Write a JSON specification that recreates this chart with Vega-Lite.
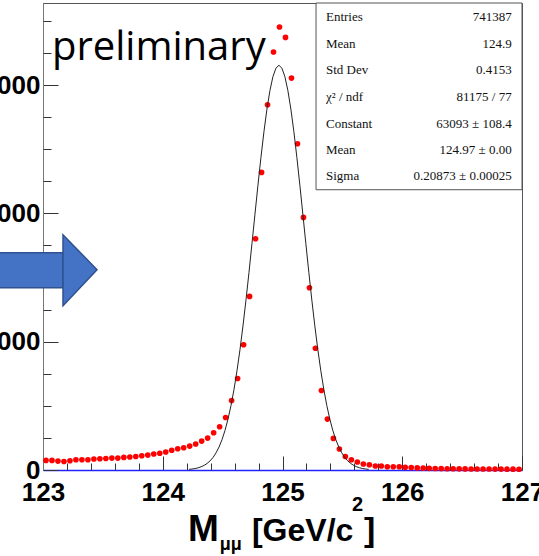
{
  "$schema": "https://vega.github.io/schema/vega-lite/v6.json",
  "width": 479,
  "height": 467,
  "autosize": {"type": "none"},
  "padding": {"left": 43, "top": 3, "right": 17, "bottom": 86},
  "background": "white",
  "config": {"view": {"stroke": "#555555", "strokeWidth": 1}},
  "datasets": {
    "hist": [
      {"m":123.025,"n":1490},{"m":123.075,"n":1490},{"m":123.125,"n":1395},{"m":123.175,"n":1330},{"m":123.225,"n":1440},
      {"m":123.275,"n":1600},{"m":123.325,"n":1600},{"m":123.375,"n":1600},{"m":123.425,"n":1710},{"m":123.475,"n":1750},
      {"m":123.525,"n":1800},{"m":123.575,"n":1860},{"m":123.625,"n":1860},{"m":123.675,"n":1960},{"m":123.725,"n":2020},
      {"m":123.775,"n":2110},{"m":123.825,"n":2220},{"m":123.875,"n":2330},{"m":123.925,"n":2490},{"m":123.975,"n":2610},
      {"m":124.025,"n":2800},{"m":124.075,"n":3080},{"m":124.125,"n":3310},{"m":124.175,"n":3470},{"m":124.225,"n":3730},
      {"m":124.275,"n":4050},{"m":124.325,"n":4510},{"m":124.375,"n":4980},{"m":124.425,"n":5810},{"m":124.475,"n":6740},
      {"m":124.525,"n":8190},{"m":124.575,"n":10840},{"m":124.625,"n":14270},{"m":124.675,"n":19530},{"m":124.725,"n":27060},
      {"m":124.775,"n":36050},{"m":124.825,"n":46390},{"m":124.875,"n":56940},{"m":124.925,"n":65160},{"m":124.975,"n":69060},
      {"m":125.025,"n":67430},{"m":125.075,"n":61100},{"m":125.125,"n":50860},{"m":125.175,"n":39370},{"m":125.225,"n":28410},
      {"m":125.275,"n":18980},{"m":125.325,"n":12400},{"m":125.375,"n":7940},{"m":125.425,"n":4920},{"m":125.475,"n":3270},
      {"m":125.525,"n":2110},{"m":125.575,"n":1600},{"m":125.625,"n":1240},{"m":125.675,"n":930},{"m":125.725,"n":820},
      {"m":125.775,"n":620},{"m":125.825,"n":620},{"m":125.875,"n":510},{"m":125.925,"n":510},{"m":125.975,"n":500},
      {"m":126.025,"n":430},{"m":126.075,"n":380},{"m":126.125,"n":330},{"m":126.175,"n":290},{"m":126.225,"n":260},
      {"m":126.275,"n":240},{"m":126.325,"n":220},{"m":126.375,"n":200},{"m":126.425,"n":190},{"m":126.475,"n":180},
      {"m":126.525,"n":170},{"m":126.575,"n":160},{"m":126.625,"n":160},{"m":126.675,"n":150},{"m":126.725,"n":150},
      {"m":126.775,"n":140},{"m":126.825,"n":140},{"m":126.875,"n":130},{"m":126.925,"n":130},{"m":126.975,"n":120}
    ],
    "fit": [
      {"m":124.22,"g":99},{"m":124.245,"g":151},{"m":124.27,"g":228},{"m":124.295,"g":338},{"m":124.32,"g":495},
      {"m":124.345,"g":713},{"m":124.37,"g":1013},{"m":124.395,"g":1420},{"m":124.42,"g":1960},{"m":124.445,"g":2668},
      {"m":124.47,"g":3581},{"m":124.495,"g":4737},{"m":124.52,"g":6177},{"m":124.545,"g":7939},{"m":124.57,"g":10058},
      {"m":124.595,"g":12562},{"m":124.62,"g":15468},{"m":124.645,"g":18773},{"m":124.67,"g":22460},{"m":124.695,"g":26488},
      {"m":124.72,"g":30795},{"m":124.745,"g":35292},{"m":124.77,"g":39869},{"m":124.795,"g":44397},{"m":124.82,"g":48735},
      {"m":124.845,"g":52736},{"m":124.87,"g":56252},{"m":124.895,"g":59149},{"m":124.92,"g":61309},{"m":124.945,"g":62642},
      {"m":124.97,"g":63093},
      {"m":124.995,"g":62642},{"m":125.02,"g":61309},{"m":125.045,"g":59149},{"m":125.07,"g":56252},{"m":125.095,"g":52736},
      {"m":125.12,"g":48735},{"m":125.145,"g":44397},{"m":125.17,"g":39869},{"m":125.195,"g":35292},{"m":125.22,"g":30795},
      {"m":125.245,"g":26488},{"m":125.27,"g":22460},{"m":125.295,"g":18773},{"m":125.32,"g":15468},{"m":125.345,"g":12562},
      {"m":125.37,"g":10058},{"m":125.395,"g":7939},{"m":125.42,"g":6177},{"m":125.445,"g":4737},{"m":125.47,"g":3581},
      {"m":125.495,"g":2668},{"m":125.52,"g":1960},{"m":125.545,"g":1420},{"m":125.57,"g":1013},{"m":125.595,"g":713},
      {"m":125.62,"g":495},{"m":125.645,"g":338},{"m":125.67,"g":228},{"m":125.695,"g":151},{"m":125.72,"g":99}
    ],
    "stats": [
      {"k":"Entries","v":"741387","y":70615},
      {"k":"Mean","v":"124.9","y":66452},
      {"k":"Std Dev","v":"0.4153","y":62290},
      {"k":"χ² / ndf","v":"81175 / 77","y":58143},
      {"k":"Constant","v":"63093  ± 108.4","y":53980},
      {"k":"Mean ","v":"124.97  ± 0.00","y":49818},
      {"k":"Sigma","v":"0.20873  ± 0.00025","y":45764}
    ],
    "box": [{"x1":125.28,"x2":127,"y1":43691,"y2":72800}],
    "arrowbody": [{"x1":122.6,"x2":123.167,"lo":28413,"hi":33869}],
    "arrowhead": [
      {"x":123.167,"lo":25607,"hi":36675},
      {"x":123.451,"lo":31219,"hi":31219}
    ],
    "label": [{"x":123.075,"y":63991,"t":"preliminary"}],
    "xtitle": [
      {"x":124.211,"y":-11030,"t":"M","s":37},
      {"x":124.475,"y":-12500,"t":"μμ","s":18},
      {"x":124.745,"y":-11030,"t":"[GeV/c","s":32},
      {"x":125.58,"y":-6400,"t":"2","s":20},
      {"x":125.68,"y":-11030,"t":"]","s":34}
    ]
  },
  "resolve": {"axis": {"x": "independent", "y": "independent"}},
  "layer": [
    {
      "data": {"name": "hist"},
      "mark": {"type": "point", "filled": true, "shape": "circle", "size": 32, "color": "#ff0000", "opacity": 1},
      "encoding": {
        "x": {"field": "m", "type": "quantitative",
          "scale": {"domain": [123, 127], "nice": false, "zero": false},
          "axis": {"orient": "bottom", "values": [123, 124, 125, 126, 127], "title": null, "grid": false,
            "tickSize": -14, "tickColor": "#333333", "tickWidth": 1,
            "domainColor": "#2222ff", "domainWidth": 1.3,
            "labelFont": "Liberation Sans", "labelFontWeight": "bold", "labelFontSize": 26,
            "labelColor": "#000000", "labelBaseline": "alphabetic", "labelPadding": 44,
            "labelFlush": false, "labelOverlap": false, "labelBound": false, "format": "d"}},
        "y": {"field": "n", "type": "quantitative",
          "scale": {"domain": [0, 72800], "nice": false, "zero": true},
          "axis": {"orient": "left", "values": [0, 20000, 40000, 60000], "title": null, "grid": false,
            "tickSize": -15, "tickColor": "#333333", "tickWidth": 1,
            "domainColor": "#777777", "domainWidth": 1,
            "labelFont": "Liberation Sans", "labelFontWeight": "bold", "labelFontSize": 26,
            "labelColor": "#000000", "labelBaseline": "middle", "labelAlign": "right", "labelPadding": 18,
            "labelFlush": false, "labelOverlap": false, "labelBound": false, "format": "d"}}
      }
    },
    {
      "data": {"name": "fit"},
      "mark": {"type": "line", "color": "#222222", "strokeWidth": 1},
      "encoding": {
        "x": {"field": "m", "type": "quantitative",
          "axis": {"orient": "bottom", "values": [123.2,123.4,123.6,123.8,124.2,124.4,124.6,124.8,125.2,125.4,125.6,125.8,126.2,126.4,126.6,126.8],
            "title": null, "grid": false, "labels": false, "domain": false,
            "tickSize": -7, "tickColor": "#333333", "tickWidth": 1}},
        "y": {"field": "g", "type": "quantitative",
          "axis": {"orient": "left", "values": [5000,10000,15000,25000,30000,35000,45000,50000,55000,65000,70000],
            "title": null, "grid": false, "labels": false, "domain": false,
            "tickSize": -8, "tickColor": "#333333", "tickWidth": 1}}
      }
    },
    {
      "data": {"name": "box"},
      "mark": {"type": "rect", "fill": "white", "stroke": "#555555", "strokeWidth": 1},
      "encoding": {
        "x": {"field": "x1", "type": "quantitative", "axis": null},
        "x2": {"field": "x2"},
        "y": {"field": "y1", "type": "quantitative", "axis": null},
        "y2": {"field": "y2"}
      }
    },
    {
      "data": {"name": "stats"},
      "mark": {"type": "text", "align": "left", "baseline": "middle", "font": "Liberation Serif", "fontSize": 13, "color": "#111111"},
      "encoding": {
        "x": {"datum": 125.363, "type": "quantitative", "axis": null},
        "y": {"field": "y", "type": "quantitative", "axis": null},
        "text": {"field": "k"}
      }
    },
    {
      "data": {"name": "stats"},
      "mark": {"type": "text", "align": "right", "baseline": "middle", "font": "Liberation Serif", "fontSize": 13, "color": "#111111"},
      "encoding": {
        "x": {"datum": 126.914, "type": "quantitative", "axis": null},
        "y": {"field": "y", "type": "quantitative", "axis": null},
        "text": {"field": "v"}
      }
    },
    {
      "data": {"name": "label"},
      "mark": {"type": "text", "align": "left", "baseline": "alphabetic", "font": "Open Sans", "fontSize": 40, "color": "#000000"},
      "encoding": {
        "x": {"field": "x", "type": "quantitative", "axis": null},
        "y": {"field": "y", "type": "quantitative", "axis": null},
        "text": {"field": "t"}
      }
    },
    {
      "data": {"name": "xtitle"},
      "mark": {"type": "text", "align": "left", "baseline": "alphabetic", "font": "Liberation Sans", "fontWeight": "bold", "color": "#000000", "clip": false},
      "encoding": {
        "x": {"field": "x", "type": "quantitative", "axis": null},
        "y": {"field": "y", "type": "quantitative", "axis": null},
        "text": {"field": "t"},
        "size": {"field": "s", "type": "quantitative", "scale": null, "legend": null}
      }
    },
    {
      "data": {"name": "arrowbody"},
      "mark": {"type": "rect", "fill": "#4472C4", "stroke": "#2F528F", "strokeWidth": 1.5, "clip": false},
      "encoding": {
        "x": {"field": "x1", "type": "quantitative", "axis": null},
        "x2": {"field": "x2"},
        "y": {"field": "lo", "type": "quantitative", "axis": null},
        "y2": {"field": "hi"}
      }
    },
    {
      "data": {"name": "arrowhead"},
      "mark": {"type": "area", "fill": "#4472C4", "stroke": "#2F528F", "strokeWidth": 1.5, "fillOpacity": 1, "clip": false, "interpolate": "linear"},
      "encoding": {
        "x": {"field": "x", "type": "quantitative", "axis": null},
        "y": {"field": "lo", "type": "quantitative", "axis": null, "stack": null},
        "y2": {"field": "hi"}
      }
    }
  ]
}
